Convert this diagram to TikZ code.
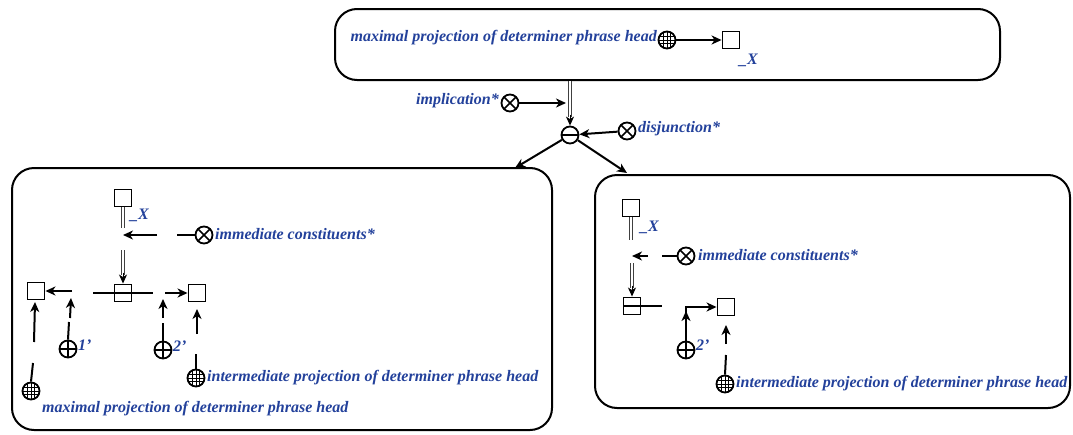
\documentclass[tikz,border=0pt]{standalone}
\usepackage{fontspec}
\setmainfont{Liberation Serif}
\usetikzlibrary{arrows.meta,calc}
\definecolor{tblue}{RGB}{35,65,155}
\begin{document}
\begin{tikzpicture}[x=1pt,y=-1pt,
  bigbox/.style={draw, line width=2pt, rounded corners=22pt, inner sep=0pt},
  txt/.style={text=tblue, font=\fontsize{16}{18}\selectfont\bfseries\itshape, inner sep=0pt},
  sym/.style={circle, draw, line width=1.8pt, minimum size=17pt, inner sep=0pt},
  otim/.style={sym, path picture={\draw[line width=1.5pt] (path picture bounding box.north west)--(path picture bounding box.south east) (path picture bounding box.north east)--(path picture bounding box.south west);}},
  opl/.style={sym, path picture={\draw[line width=1.5pt] (path picture bounding box.north)--(path picture bounding box.south) (path picture bounding box.west)--(path picture bounding box.east);}},
  omin/.style={sym, path picture={\draw[line width=1.5pt] (path picture bounding box.west)--(path picture bounding box.east);}},
  globe/.style={sym, path picture={\foreach \d in {-3.4,0,3.4}{\draw[line width=0.75pt] ([xshift=\d pt]path picture bounding box.north)--([xshift=\d pt]path picture bounding box.south) ([yshift=\d pt]path picture bounding box.west)--([yshift=\d pt]path picture bounding box.east);}}},
  sq/.style={draw, line width=1.9pt, minimum size=17pt, inner sep=0pt},
  bmin/.style={sq, path picture={\draw[line width=1.5pt] (path picture bounding box.west)--(path picture bounding box.east);}},
  arr/.style={line width=2pt, -{Stealth[length=10pt,width=9pt,inset=3pt]}},
  ln/.style={line width=2pt},
  dbl/.style={draw=black!75, double=white, double distance=2.2pt, line width=0.8pt},
  darr/.style={line width=0.9pt, -{Stealth[length=9pt,width=8pt,inset=2.5pt]}}
]
\useasboundingbox (0,0) rectangle (1073,434);

% containers
\node[bigbox, minimum width=665pt, minimum height=71pt] (top) at (667.5,44.5) {};
\node[bigbox, minimum width=540pt, minimum height=262pt] (lbox) at (282,299) {};
\node[bigbox, minimum width=475pt, minimum height=233pt] (rbox) at (832.5,291.5) {};

% top box
\node[txt, anchor=east] (tTxt) at (657,38) {maximal projection of determiner phrase head};
\node[globe] (gT) at (667,40) {};
\node[sq] (sT) at (731,40) {};
\draw[arr] (gT) -- (sT);
\node[txt, anchor=west] (xT) at (739,60) {\_X};

% centre
\node[omin] (om) at (570,135) {};
\draw[dbl] (top.south -| om) -- ($(om.north)+(0,-9)$);
\draw[darr] ($(om.north)+(0,-11)$) -- (om.north);
\node[otim] (imp) at (510,103) {};
\node[txt, anchor=east] (impTxt) at (499,101) {implication*};
\coordinate (impT) at (566,103);
\draw[arr] (imp) -- (impT);
\node[otim] (dis) at (627,131) {};
\node[txt, anchor=west] (disTxt) at (638,129) {disjunction*};
\draw[arr] (dis) -- (om);
\coordinate (lIn) at (515,168);
\coordinate (rIn) at (627,173);
\draw[arr] (om) -- (lIn);
\draw[arr] (om) -- (rIn);

% left box
\node[sq] (L1) at (123,198) {};
\node[txt, anchor=west] (xL) at (130,215) {\_X};
\coordinate (L1a) at (123,228);
\draw[dbl] (L1.south) -- (L1a);
\node[otim] (icL) at (204,235) {};
\node[txt, anchor=west] (icLTxt) at (215,234) {immediate constituents*};
\coordinate (icLa) at (177,235);
\coordinate (icLb) at (157,235);
\coordinate (icLc) at (123,235);
\draw[ln] (icL.west) -- (icLa);
\draw[arr] (icLb) -- (icLc);
\node[bmin] (bmL) at (123,293) {};
\coordinate (dL) at (123,250);
\draw[dbl] (dL) -- ($(bmL.north)+(0,-9)$);
\draw[darr] ($(bmL.north)+(0,-11)$) -- (bmL.north);
\node[sq] (L2) at (36,291) {};
\node[sq] (L3) at (197,293) {};
\coordinate (bmLw) at (93,293);
\coordinate (bmLe) at (153,293);
\draw[ln] (bmL.west) -- (bmLw);
\draw[ln] (bmL.east) -- (bmLe);
\coordinate (aL2) at (72,291);
\draw[arr] (aL2) -- (L2.east);
\coordinate (aL3) at (165,293);
\draw[arr] (aL3) -- (L3.west);
% 1'
\node[opl] (p1) at (68,349) {};
\node[txt, anchor=west] (p1Txt) at (78,345) {1'};
\coordinate (p1a) at (69,322);
\coordinate (p1b) at (70,318);
\coordinate (p1c) at (71,298);
\draw[ln] (p1.north) -- (p1a);
\draw[arr] (p1b) -- (p1c);
% 2'
\node[opl] (p2) at (163,350) {};
\node[txt, anchor=west] (p2Txt) at (173,346) {2'};
\coordinate (p2a) at (163,323);
\coordinate (p2b) at (163,318);
\coordinate (p2c) at (163,299);
\draw[ln] (p2.north) -- (p2a);
\draw[arr] (p2b) -- (p2c);
% globes
\node[globe] (gL1) at (31,391) {};
\node[txt, anchor=west] (gL1Txt) at (42,409) {maximal projection of determiner phrase head};
\coordinate (gL1a) at (33,363);
\coordinate (gL1b) at (34,342);
\coordinate (gL1c) at (35,302);
\draw[ln] (gL1.north) -- (gL1a);
\draw[arr] (gL1b) -- (gL1c);
\node[globe] (gL2) at (196,378) {};
\node[txt, anchor=west] (gL2Txt) at (207,378) {intermediate projection of determiner phrase head};
\coordinate (gL2a) at (196,354);
\coordinate (gL2b) at (197,334);
\coordinate (gL2c) at (197,309);
\draw[ln] (gL2.north) -- (gL2a);
\draw[arr] (gL2b) -- (gL2c);

% right box
\node[sq] (R1) at (631,208) {};
\node[txt, anchor=west] (xR) at (640,227) {\_X};
\coordinate (R1a) at (631,240);
\draw[dbl] (R1.south) -- (R1a);
\node[otim] (icR) at (686,256) {};
\node[txt, anchor=west] (icRTxt) at (698,255) {immediate constituents*};
\coordinate (icRa) at (662,256);
\coordinate (icRb) at (648,256);
\coordinate (icRc) at (632,256);
\draw[ln] (icR.west) -- (icRa);
\draw[arr] (icRb) -- (icRc);
\node[bmin] (bmR) at (632,306) {};
\coordinate (dR) at (632,263);
\draw[dbl] (dR) -- ($(bmR.north)+(0,-9)$);
\draw[darr] ($(bmR.north)+(0,-11)$) -- (bmR.north);
\coordinate (bmRe) at (662,306);
\draw[ln] (bmR.east) -- (bmRe);
\node[sq] (R2) at (726,307) {};
\node[opl] (p2R) at (686,350) {};
\node[txt, anchor=west] (p2RTxt) at (696,345) {2'};
\coordinate (p2Ra) at (686,311);
\draw[arr] (p2R.north) -- (p2Ra);
\coordinate (p2Rb) at (686,314);
\draw[arr] (p2Rb) |- (R2.west);
\node[globe] (gR) at (725,384) {};
\node[txt, anchor=west] (gRTxt) at (736,384) {intermediate projection of determiner phrase head};
\coordinate (gRa) at (726,355);
\coordinate (gRb) at (726,344);
\coordinate (gRc) at (726,325);
\draw[ln] (gR.north) -- (gRa);
\draw[arr] (gRb) -- (gRc);
\end{tikzpicture}
\end{document}
